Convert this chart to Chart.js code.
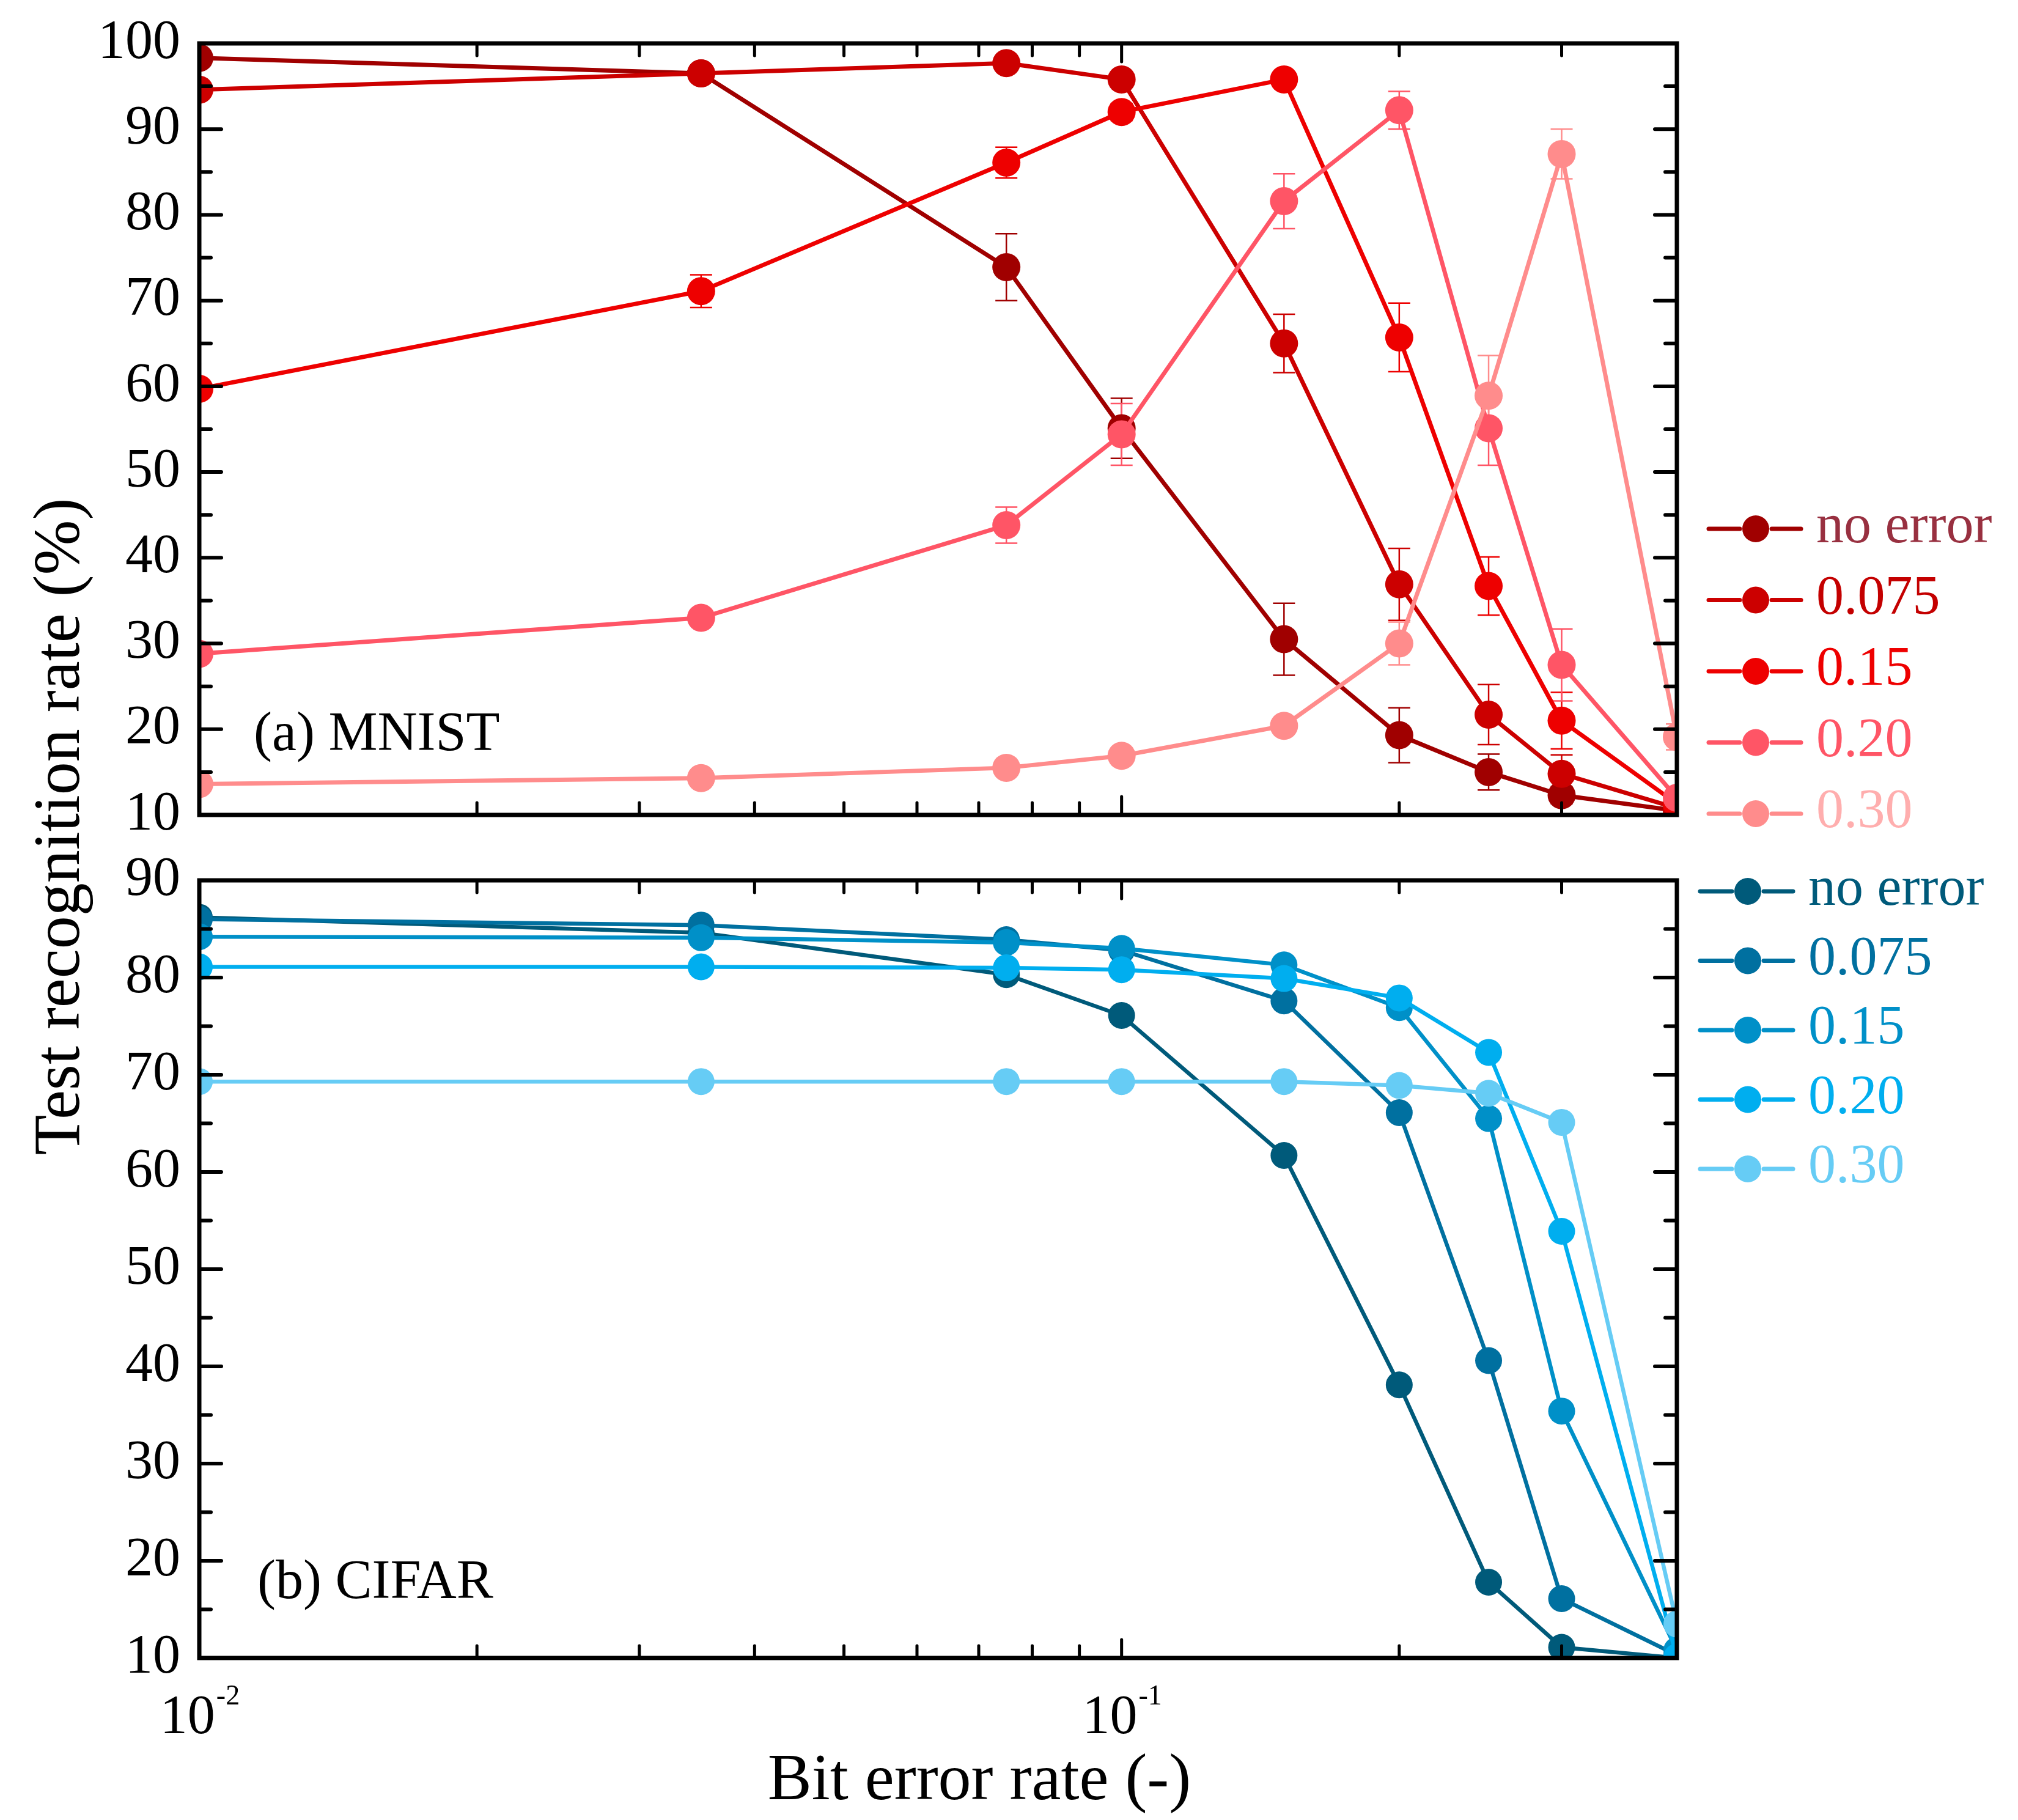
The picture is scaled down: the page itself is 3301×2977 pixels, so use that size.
<!DOCTYPE html>
<html>
<head>
<meta charset="utf-8">
<title>Test recognition rate vs bit error rate</title>
<script src="https://cdn.jsdelivr.net/npm/chart.js@4.4.1/dist/chart.umd.min.js"></script>
<style>
html, body { margin:0; padding:0; background:#ffffff; }
body { position:relative; width:3301px; height:2977px; overflow:hidden; font-family:"Liberation Serif","Times New Roman",serif; }
canvas { position:absolute; left:0; }
#topChart { top:0; }
#bottomChart { top:1360px; }
.axis-title { position:absolute; font-family:"Liberation Serif","Times New Roman",serif; font-size:108px; line-height:108px; color:#000; white-space:nowrap; text-align:center; }
#yTitle { width:1300px; height:108px; left:-557px; top:1298px; transform:rotate(-90deg); }
#xTitle { width:1000px; height:108px; left:1102px; top:2853px; }
</style>
</head>
<body>
<canvas id="topChart" width="3301" height="1400"></canvas>
<canvas id="bottomChart" width="3301" height="1617"></canvas>
<div id="yTitle" class="axis-title">Test recognition rate (%)</div>
<div id="xTitle" class="axis-title">Bit error rate (-)</div>
<script>
// ---------------- data ----------------
const bitErrorRate = [0.01, 0.035, 0.075, 0.1, 0.15, 0.2, 0.25, 0.3, 0.4];
const seriesLabels = ['no error', '0.075', '0.15', '0.20', '0.30'];

// (a) MNIST
const mnistNoError = [98.3, 96.5, 73.9, 55.1, 30.5, 19.3, 15.0, 12.3, 10.5];
const mnist0075    = [94.6, 96.5, 97.7, 95.8, 65.0, 36.9, 21.7, 14.8, 10.8];
const mnist015     = [59.7, 71.1, 86.1, 92.0, 95.8, 65.7, 36.7, 21.0, 11.3];
const mnist020     = [28.8, 33.0, 43.8, 54.4, 81.6, 92.2, 55.1, 27.5, 12.0];
const mnist030     = [13.6, 14.3, 15.5, 16.9, 20.4, 30.0, 58.9, 87.1, 19.1];
// (a) MNIST error bars (+/-)
const mnistNoErrorErr = [0.4, 0.4, 3.9, 3.5, 4.2, 3.2, 2.1, 1.0, 0.3];
const mnist0075Err    = [0.4, 0.4, 0.4, 0.5, 3.4, 4.2, 3.5, 2.2, 0.3];
const mnist015Err     = [0.4, 1.9, 1.8, 1.0, 0.4, 4.0, 3.4, 3.3, 0.4];
const mnist020Err     = [0.4, 0.8, 2.1, 3.6, 3.2, 2.2, 4.3, 4.2, 1.0];
const mnist030Err     = [0.3, 0.4, 0.4, 0.4, 0.5, 2.5, 4.7, 2.9, 1.5];

// (b) CIFAR
const cifarNoError = [86.2, 84.6, 80.3, 76.1, 61.7, 38.1, 17.8, 11.1, 10.0];
const cifar0075    = [86.0, 85.4, 83.9, 82.8, 77.6, 66.1, 40.6, 16.1, 10.3];
const cifar015     = [84.2, 84.1, 83.6, 83.0, 81.3, 76.9, 65.5, 35.4, 10.8];
const cifar020     = [81.1, 81.1, 81.0, 80.8, 79.9, 77.9, 72.3, 53.9, 10.1];
const cifar030     = [69.3, 69.3, 69.3, 69.3, 69.3, 68.9, 68.1, 65.1, 13.5];

// axes
const xMin = 0.01, xMax = 0.4;
const xDecadeTicks = [0.01, 0.1];
const xDecadeExponents = ['-2', '-1'];
const xMinorTicks = [0.02, 0.03, 0.04, 0.05, 0.06, 0.07, 0.08, 0.09, 0.2, 0.3];
const mnistYRange = [10, 100];
const cifarYRange = [10, 90];
const yStep = 10;

// colours
const redColors     = ['#A00000', '#CC0000', '#EE0000', '#FF5566', '#FF8C8C'];
const redTextColors = ['#983040', '#C40000', '#EE0000', '#FF5566', '#FFAEAE'];
const blueColors    = ['#005A7A', '#0070A0', '#0090C8', '#00AEEF', '#66CCF5'];

const FONT = '"Liberation Serif", "Times New Roman", serif';

// ---------------- helpers ----------------
function makeDatasets(seriesValues, colors, radius, width) {
  return seriesValues.map((vals, i) => ({
    label: seriesLabels[i],
    data: bitErrorRate.map((x, j) => ({ x: x, y: vals[j] })),
    borderColor: colors[i],
    backgroundColor: colors[i],
    pointBackgroundColor: colors[i],
    pointBorderColor: colors[i],
    pointBorderWidth: 0,
    pointRadius: radius,
    pointHoverRadius: radius,
    borderWidth: width,
    tension: 0,
    clip: 0,
    order: seriesValues.length - i
  }));
}

function line(ctx, x1, y1, x2, y2) {
  ctx.beginPath(); ctx.moveTo(x1, y1); ctx.lineTo(x2, y2); ctx.stroke();
}

const panelPlugin = {
  id: 'panel',
  beforeDatasetsDraw(chart, args, o) {
    if (!o || !o.errors) return;
    const ctx = chart.ctx, xs = chart.scales.x, ys = chart.scales.y, a = chart.chartArea;
    ctx.save();
    ctx.beginPath(); ctx.rect(a.left, a.top, a.right - a.left, a.bottom - a.top); ctx.clip();
    ctx.lineWidth = 2.5;
    ctx.lineCap = 'butt';
    chart.data.datasets.forEach((ds, i) => {
      const errs = o.errors[i];
      ctx.strokeStyle = ds.borderColor;
      ds.data.forEach((p, j) => {
        const e = errs[j];
        if (!e) return;
        const px = xs.getPixelForValue(p.x);
        const y1 = ys.getPixelForValue(p.y + e), y2 = ys.getPixelForValue(p.y - e);
        ctx.beginPath();
        ctx.moveTo(px, y1); ctx.lineTo(px, y2);
        ctx.moveTo(px - 18, y1); ctx.lineTo(px + 18, y1);
        ctx.moveTo(px - 18, y2); ctx.lineTo(px + 18, y2);
        ctx.stroke();
      });
    });
    ctx.restore();
  },
  afterDatasetsDraw(chart, args, o) {
    const ctx = chart.ctx, xs = chart.scales.x, ys = chart.scales.y;
    const { left, right, top, bottom } = chart.chartArea;
    ctx.save();
    ctx.strokeStyle = '#000';
    ctx.lineCap = 'round';
    // y ticks (inside, both sides)
    ctx.lineWidth = 6;
    ys.ticks.forEach(t => {
      const py = ys.getPixelForValue(t.value);
      line(ctx, left, py, left + 36, py);
      line(ctx, right, py, right - 36, py);
    });
    for (let v = ys.min + yStep / 2; v < ys.max; v += yStep) {
      const py = ys.getPixelForValue(v);
      line(ctx, left, py, left + 19, py);
      line(ctx, right, py, right - 19, py);
    }
    // x ticks (inside, top and bottom)
    ctx.lineWidth = 5;
    xDecadeTicks.forEach(v => {
      const px = xs.getPixelForValue(v);
      line(ctx, px, bottom, px, bottom - 30);
      line(ctx, px, top, px, top + 30);
    });
    xMinorTicks.forEach(v => {
      const px = xs.getPixelForValue(v);
      line(ctx, px, bottom, px, bottom - 20);
      line(ctx, px, top, px, top + 20);
    });
    // frame
    ctx.lineCap = 'butt';
    ctx.lineJoin = 'miter';
    ctx.lineWidth = 7;
    ctx.strokeRect(left, top, right - left, bottom - top);

    // panel label
    ctx.fillStyle = '#000';
    ctx.font = '90px ' + FONT;
    ctx.textAlign = 'left';
    ctx.textBaseline = 'alphabetic';
    ctx.fillText(o.panelLabel, o.panelLabelX, o.panelLabelY);

    // legend
    const L = o.legend;
    chart.data.datasets.forEach((ds, i) => {
      const y = L.y0 + i * L.dy;
      ctx.strokeStyle = ds.borderColor;
      ctx.lineWidth = 7;
      ctx.lineCap = 'round';
      line(ctx, L.x0, y, L.mx - 26, y);
      line(ctx, L.mx + 26, y, L.x1, y);
      ctx.fillStyle = ds.pointBackgroundColor;
      ctx.beginPath(); ctx.arc(L.mx, y, 22, 0, Math.PI * 2); ctx.fill();
      ctx.fillStyle = L.textColors[i];
      ctx.font = '90px ' + FONT;
      ctx.textAlign = 'left';
      ctx.textBaseline = 'alphabetic';
      ctx.fillText(ds.label, L.tx, y + 22);
    });

    // x tick labels with superscript exponents
    if (o.xLabels) {
      ctx.fillStyle = '#000';
      ctx.textAlign = 'left';
      ctx.textBaseline = 'alphabetic';
      xDecadeTicks.forEach((v, k) => {
        const px = xs.getPixelForValue(v);
        ctx.font = '90px ' + FONT;
        const wBase = ctx.measureText('10').width;
        ctx.font = '46px ' + FONT;
        const wExp = ctx.measureText(xDecadeExponents[k]).width;
        const x0 = px - (wBase + wExp) / 2;
        ctx.font = '90px ' + FONT;
        ctx.fillText('10', x0, o.xLabels.baseY);
        ctx.font = '46px ' + FONT;
        ctx.fillText(xDecadeExponents[k], x0 + wBase + 2, o.xLabels.expY);
      });
    }
    ctx.restore();
  }
};

function makeOptions(cfg) {
  return {
    responsive: false,
    maintainAspectRatio: false,
    animation: false,
    devicePixelRatio: 1,
    events: [],
    layout: { padding: { left: 0, right: 558, top: cfg.padTop, bottom: 0 } },
    plugins: {
      legend: { display: false },
      tooltip: { enabled: false },
      title: { display: false },
      panel: cfg.panel
    },
    scales: {
      x: {
        type: 'logarithmic', min: xMin, max: xMax,
        grid: { display: false, drawTicks: false },
        border: { display: false },
        ticks: { display: false },
        afterFit(s) { s.height = cfg.xHeight; }
      },
      y: {
        type: 'linear', min: cfg.yRange[0], max: cfg.yRange[1],
        grid: { display: false, drawTicks: false },
        border: { display: false },
        ticks: {
          stepSize: yStep, autoSkip: false, padding: 31, color: '#000',
          font: { family: FONT, size: 90, lineHeight: 0.8 }
        },
        afterFit(s) { s.width = 326; }
      }
    }
  };
}

// ---------------- charts ----------------
new Chart(document.getElementById('topChart'), {
  type: 'line',
  data: { datasets: makeDatasets([mnistNoError, mnist0075, mnist015, mnist020, mnist030], redColors, 23, 7) },
  options: makeOptions({
    padTop: 71, xHeight: 58, yRange: mnistYRange,
    panel: {
      errors: [mnistNoErrorErr, mnist0075Err, mnist015Err, mnist020Err, mnist030Err],
      panelLabel: '(a) MNIST', panelLabelX: 415, panelLabelY: 1227,
      legend: { x0: 2795, x1: 2946, mx: 2872, tx: 2971, y0: 865, dy: 116.5, textColors: redTextColors }
    }
  }),
  plugins: [panelPlugin]
});

new Chart(document.getElementById('bottomChart'), {
  type: 'line',
  data: { datasets: makeDatasets([cifarNoError, cifar0075, cifar015, cifar020, cifar030], blueColors, 22, 6.5) },
  options: makeOptions({
    padTop: 80, xHeight: 265, yRange: cifarYRange,
    panel: {
      errors: null,
      panelLabel: '(b) CIFAR', panelLabelX: 421, panelLabelY: 1254,
      legend: { x0: 2781, x1: 2933, mx: 2859, tx: 2958, y0: 98, dy: 113.5, textColors: blueColors },
      xLabels: { baseY: 1475, expY: 1428 }
    }
  }),
  plugins: [panelPlugin]
});
</script>
</body>
</html>
